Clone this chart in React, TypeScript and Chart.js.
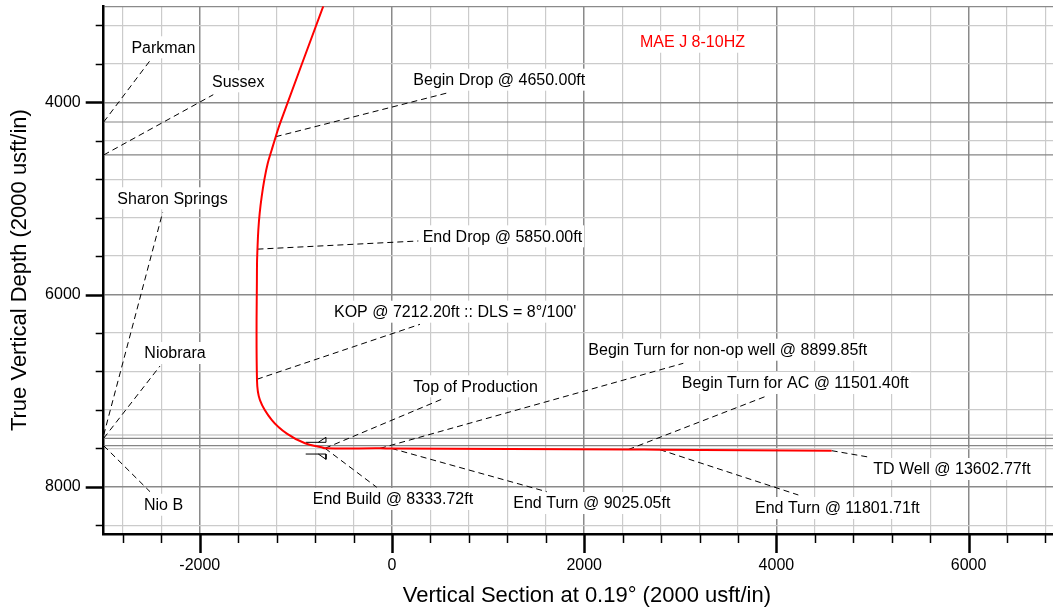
import { useEffect, useRef } from 'react';
import { Chart, registerables } from 'chart.js';

Chart.register(...registerables);

// ---------- axis ranges ----------
const X_MIN = -3000;
const X_MAX = 7055;
const Y_MIN = 3000;
const Y_MAX = 8492;

// ---------- well path (vertical section vs TVD) ----------
const wellVS = [-715, -1165, -1210, -1252, -1293, -1329, -1356, -1377, -1391, -1400, -1405, -1405, -1374, -1250, -1090, -905, -732, -697, -125, -3, 2459, 2789, 4575];
const wellTVD = [3000, 4219, 4358, 4496, 4635, 4809, 4982, 5155, 5329, 5528, 5700, 6882, 7098, 7306, 7450, 7548, 7590, 7600, 7601, 7602, 7613, 7615, 7625];

// ---------- grid / ticks ----------
const xGridValues = [-2800, -2400, -2000, -1600, -1200, -800, -400, 0, 400, 800, 1200, 1600, 2000, 2400, 2800, 3200, 3600, 4000, 4400, 4800, 5200, 5600, 6000, 6400, 6800];
const yGridValues = [3000, 3200, 3600, 4000, 4400, 4800, 5200, 5600, 6000, 6400, 6800, 7200, 7600, 8000, 8400];
const xTickLabels = [-2000, 0, 2000, 4000, 6000];
const yTickLabels = [4000, 6000, 8000];

// ---------- formations ----------
const formationNames = ['Parkman', 'Sussex', 'Sharon Springs', 'Niobrara', 'Nio B'];
const formationTVD = [4205, 4548, 7462, 7496, 7573];
const formationLineColor = ['#858585', '#858585', '#b4b4b4', '#858585', '#858585'];
// label anchor (left, middle) and leader end, in data units
const formationLabelAt = [[-2712, 3438], [-1873, 3792], [-2858, 5009], [-2577, 6619], [-2581, 8198]];
const formationLeaderEnd = [[-2511, 3557], [-1860, 3921], [-2386, 5144], [-2414, 6744], [-2518, 8052]];

// ---------- well events ----------
const eventNames = [
  'Begin Drop @ 4650.00ft',
  'End Drop @ 5850.00ft',
  "KOP @ 7212.20ft :: DLS = 8°/100'",
  'Top of Production',
  'Begin Turn for non-op well @ 8899.85ft',
  'Begin Turn for AC @ 11501.40ft',
  'End Build @ 8333.72ft',
  'End Turn @ 9025.05ft',
  'End Turn @ 11801.71ft',
  'TD Well @ 13602.77ft',
];
const eventVS = [-1210, -1400, -1405, -697, -125, 2459, -697, -3, 2789, 4575];
const eventTVD = [4358, 5528, 6882, 7600, 7601, 7613, 7600, 7602, 7615, 7625];
const eventLabelAt = [[222, 3775], [319, 5405], [-604, 6189], [222, 6966], [2043, 6585], [3015, 6931], [-825, 8138], [1262, 8180], [3777, 8232], [5008, 7826]];
const eventLeaderEnd = [[586, 3900], [274, 5443], [291, 6310], [517, 7090], [3031, 6716], [3881, 7063], [-159, 8006], [1610, 8052], [4228, 8086], [4974, 7694]];

// ---------- target symbols ----------
const targetUpperVS = [-898, -687, -687, -767];
const targetUpperTVD = [7538, 7538, 7486, 7538];
const targetLowerVS = [-898, -687, -687, -767];
const targetLowerTVD = [7660, 7660, 7715, 7660];

const chartTitle = 'MAE J 8-10HZ';
const chartTitleAt = [2581, 3380];

const FONT = "'Liberation Sans', Arial, Helvetica, sans-serif";

const pts = (xs: number[], ys: number[]) => xs.map((x, i) => ({ x, y: ys[i] }));

export default function App() {
  const canvasRef = useRef<HTMLCanvasElement | null>(null);

  useEffect(() => {
    const canvas = canvasRef.current;
    if (!canvas) return;
    Chart.defaults.font.family = FONT;
    Chart.defaults.color = '#000';

    const datasets: any[] = [];
    datasets.push({
      data: pts(wellVS, wellTVD),
      borderColor: '#ff0000',
      borderWidth: 2,
      pointRadius: 0,
      tension: 0.4,
      fill: false,
    });
    [[targetUpperVS, targetUpperTVD], [targetLowerVS, targetLowerTVD]].forEach(([xs, ys]) => {
      datasets.push({
        data: pts(xs, ys),
        borderColor: '#000',
        borderWidth: 1,
        pointRadius: 0,
        tension: 0,
        fill: false,
      });
    });
    eventNames.forEach((_, i) => {
      datasets.push({
        data: [
          { x: eventVS[i], y: eventTVD[i] },
          { x: eventLeaderEnd[i][0], y: eventLeaderEnd[i][1] },
        ],
        borderColor: '#000',
        borderWidth: 1,
        borderDash: [6, 4],
        pointRadius: 0,
        tension: 0,
        fill: false,
      });
    });
    formationNames.forEach((_, i) => {
      datasets.push({
        data: [
          { x: X_MIN, y: formationTVD[i] },
          { x: formationLeaderEnd[i][0], y: formationLeaderEnd[i][1] },
        ],
        borderColor: '#000',
        borderWidth: 1,
        borderDash: [6, 4],
        pointRadius: 0,
        tension: 0,
        fill: false,
      });
    });
    formationNames.forEach((_, i) => {
      datasets.push({
        data: [
          { x: X_MIN, y: formationTVD[i] },
          { x: X_MAX, y: formationTVD[i] },
        ],
        borderColor: formationLineColor[i],
        borderWidth: 1.2,
        pointRadius: 0,
        tension: 0,
        fill: false,
      });
    });

    const labels: { text: string; at: number[]; color: string }[] = [];
    formationNames.forEach((n, i) => labels.push({ text: n, at: formationLabelAt[i], color: '#000' }));
    eventNames.forEach((n, i) => labels.push({ text: n, at: eventLabelAt[i], color: '#000' }));
    labels.push({ text: chartTitle, at: chartTitleAt, color: '#ff0000' });

    const labelFont = `16px ${FONT}`;

    const annotPlugin = {
      id: 'annot',
      beforeDatasetsDraw(chart: any) {
        const { ctx, scales } = chart;
        ctx.save();
        ctx.font = labelFont;
        ctx.fillStyle = '#ffffff';
        labels.forEach((l) => {
          const px = scales.x.getPixelForValue(l.at[0]);
          const py = scales.y.getPixelForValue(l.at[1]);
          const w = ctx.measureText(l.text).width;
          ctx.fillRect(px - 2, py - 12, w + 4, 22);
        });
        ctx.restore();
      },
      afterDatasetsDraw(chart: any) {
        const { ctx, scales } = chart;
        ctx.save();
        ctx.font = labelFont;
        ctx.textAlign = 'left';
        ctx.textBaseline = 'middle';
        labels.forEach((l) => {
          const px = scales.x.getPixelForValue(l.at[0]);
          const py = scales.y.getPixelForValue(l.at[1]);
          ctx.fillStyle = l.color;
          ctx.fillText(l.text, px, py);
        });
        ctx.restore();
      },
      afterDraw(chart: any) {
        const { ctx, scales, chartArea } = chart;
        ctx.save();
        ctx.strokeStyle = '#000';
        xGridValues.forEach((v) => {
          const major = v % 2000 === 0;
          const px = Math.round(scales.x.getPixelForValue(v)) + 0.5;
          ctx.lineWidth = major ? 2.5 : 1.5;
          ctx.beginPath();
          ctx.moveTo(px, chartArea.bottom);
          ctx.lineTo(px, chartArea.bottom + (major ? 19 : 9));
          ctx.stroke();
        });
        yGridValues.forEach((v) => {
          if (v === Y_MIN) return;
          const major = v % 2000 === 0;
          const py = Math.round(scales.y.getPixelForValue(v)) + 0.5;
          ctx.lineWidth = major ? 2.5 : 1.5;
          ctx.beginPath();
          ctx.moveTo(chartArea.left, py);
          ctx.lineTo(chartArea.left - (major ? 18 : 8), py);
          ctx.stroke();
        });
        ctx.restore();
      },
    };

    const zeroPad = (s: any) => {
      s.paddingLeft = 0;
      s.paddingRight = 0;
      s.paddingTop = 0;
      s.paddingBottom = 0;
    };

    const chart = new Chart(canvas, {
      type: 'line',
      data: { datasets },
      plugins: [annotPlugin],
      options: {
        animation: false,
        responsive: false,
        events: [],
        layout: { padding: { top: 6.2, left: 0, right: 0, bottom: 0 } },
        plugins: {
          legend: { display: false },
          tooltip: { enabled: false },
        },
        scales: {
          x: {
            type: 'linear',
            min: X_MIN,
            max: X_MAX,
            afterBuildTicks: (s: any) => {
              s.ticks = xGridValues.map((v) => ({ value: v }));
            },
            afterFit: (s: any) => {
              s.height = 74;
              zeroPad(s);
            },
            ticks: {
              autoSkip: false,
              maxRotation: 0,
              minRotation: 0,
              padding: 22,
              font: { size: 16 },
              color: '#000',
              callback: (v: any) => (xTickLabels.includes(v) ? String(v) : ''),
            },
            grid: {
              drawTicks: false,
              color: (c: any) => (c.tick && c.tick.value % 2000 === 0 ? '#8a8a8a' : '#cbcbcb'),
              lineWidth: (c: any) => (c.tick && c.tick.value % 2000 === 0 ? 1.5 : 1.2),
            },
            border: { display: true, color: '#000', width: 2.5 },
            title: {
              display: true,
              text: 'Vertical Section at 0.19° (2000 usft/in)',
              font: { size: 22 },
              color: '#000',
              padding: { top: 0, bottom: -1 },
            },
          },
          y: {
            type: 'linear',
            reverse: true,
            min: Y_MIN,
            max: Y_MAX,
            afterBuildTicks: (s: any) => {
              s.ticks = yGridValues.map((v) => ({ value: v }));
            },
            afterFit: (s: any) => {
              s.width = 103.7;
              zeroPad(s);
            },
            ticks: {
              autoSkip: false,
              padding: 23,
              font: { size: 16 },
              color: '#000',
              callback: (v: any) => (yTickLabels.includes(v) ? String(v) : ''),
            },
            grid: {
              drawTicks: false,
              color: (c: any) =>
                c.tick && (c.tick.value % 2000 === 0 || c.tick.value === Y_MIN) ? '#8a8a8a' : '#cbcbcb',
              lineWidth: (c: any) => (c.tick && c.tick.value % 2000 === 0 ? 1.5 : 1.2),
            },
            border: { display: true, color: '#000', width: 2.5 },
            title: {
              display: true,
              text: 'True Vertical Depth (2000 usft/in)',
              font: { size: 22 },
              color: '#000',
              padding: { top: 7, bottom: 0 },
            },
          },
        },
      } as any,
    });

    return () => chart.destroy();
  }, []);

  return (
    <div
      style={{
        position: 'absolute',
        left: 0,
        top: 0,
        width: 1053,
        height: 608,
        overflow: 'hidden',
        background: '#ffffff',
      }}
    >
      <canvas ref={canvasRef} width={1070} height={608} style={{ display: 'block' }} />
    </div>
  );
}
